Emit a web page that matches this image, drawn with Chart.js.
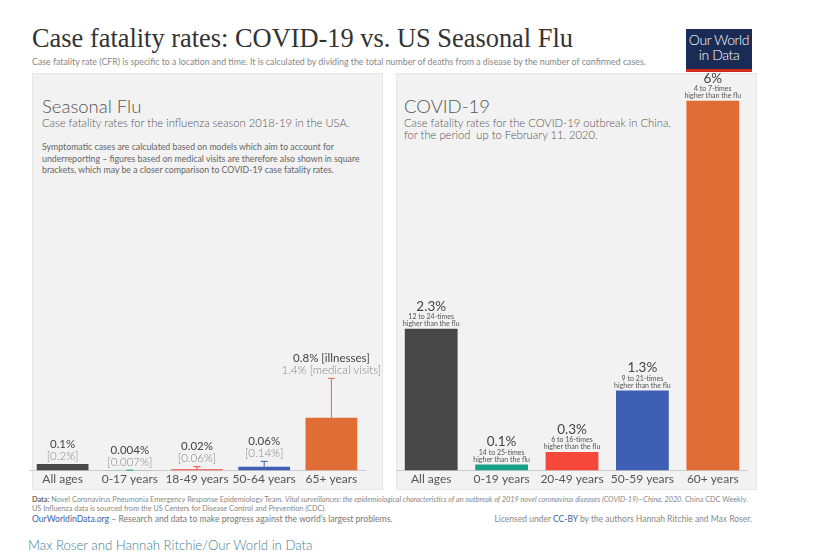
<!DOCTYPE html>
<html>
<head>
<meta charset="utf-8">
<script src="https://cdn.jsdelivr.net/npm/chart.js@4.4.1/dist/chart.umd.min.js"></script>
<style>
  body { margin: 0; width: 813px; height: 554px; background: #fff; font-family: Lato, sans-serif; position: relative; overflow: hidden; }
  .abs { position: absolute; white-space: nowrap; }
  #title { left: 32px; top: 22px; font-family: "Liberation Serif", serif; font-size: 26.4px; line-height: 32px; color: #333; }
  #subtitle { left: 32px; top: 57px; font-size: 8.8px; line-height: 10px; color: #888; }
  #logo { left: 686px; top: 29px; width: 66px; height: 37px; background: #1a2c55; border-bottom: 3px solid #d42b21; color: #fff; text-align: center; font-size: 14px; font-weight: 300; line-height: 15px; padding-top: 3px; box-sizing: content-box; letter-spacing: -0.4px; }
  .panel { position: absolute; top: 73px; height: 417px; background: #f2f2f2; border: 1px solid #e6e6e6; box-sizing: border-box; }
  .head { font-size: 18.5px; font-weight: 300; color: #555; line-height: 18px; }
  .sub { font-size: 11.2px; font-weight: 300; color: #555; line-height: 12px; }
  .note { font-size: 8.75px; color: #666; line-height: 11.5px; }
  canvas { position: absolute; }
  .foot { font-size: 7.3px; color: #888; line-height: 9px; }
  .blue { color: #3b5ea8; }
</style>
</head>
<body>
<div class="abs" id="title">Case fatality rates: COVID-19 vs. US Seasonal Flu</div>
<div class="abs" id="subtitle">Case fatality rate (CFR) is specific to a location and time. It is calculated by dividing the total number of deaths from a disease by the number of confirmed cases.</div>
<div class="abs" id="logo">Our World<br>in Data</div>

<div class="panel" style="left:32px; width:351px;"></div>
<div class="panel" style="left:396px; width:361px;"></div>

<div class="abs head" style="left:42px; top:97px;">Seasonal Flu</div>
<div class="abs sub" style="left:42px; top:117px;">Case fatality rates for the influenza season 2018-19 in the USA.</div>
<div class="abs note" style="left:42px; top:141px;">Symptomatic cases are calculated based on models which aim to account for<br>underreporting – figures based on medical visits are therefore also shown in square<br>brackets, which may be a closer comparison to COVID-19 case fatality rates.</div>

<div class="abs head" style="left:404px; top:97px;">COVID-19</div>
<div class="abs sub" style="left:404px; top:117px;">Case fatality rates for the COVID-19 outbreak in China,<br>for the period&nbsp; up to February 11, 2020.</div>

<canvas id="fluChart" width="360" height="320" style="left:29px; top:170px;"></canvas>
<canvas id="covidChart" width="352" height="424" style="left:396px; top:66px;"></canvas>

<div class="abs foot" style="left:32px; top:495px;"><b style="color:#666">Data:</b> Novel Coronavirus Pneumonia Emergency Response Epidemiology Team. <i>Vital surveillances: the epidemiological characteristics of an outbreak of 2019 novel coronavirus diseases (COVID-19)—China, 2020.</i> China CDC Weekly.<br>US Influenza data is sourced from the US Centers for Disease Control and Prevention (CDC).</div>
<div class="abs" style="left:32px; top:514px; font-size:8.6px; color:#777;"><span class="blue">OurWorldinData.org</span> – Research and data to make progress against the world’s largest problems.</div>
<div class="abs" style="right:61px; top:514px; font-size:8.5px; color:#888;">Licensed under <span class="blue">CC-BY</span> by the authors Hannah Ritchie and Max Roser.</div>
<div class="abs" style="left:28px; top:537px; font-size:13.2px; font-weight:300; color:#3f7f93;">Max Roser and Hannah Ritchie/Our World in Data</div>

<script>
// seasonal flu 2018-19 (USA)
const fluCategories = ['All ages', '0-17 years', '18-49 years', '50-64 years', '65+ years'];
const fluIllnesses = [0.1, 0.004, 0.02, 0.06, 0.8];
const fluMedicalVisits = [0.2, 0.007, 0.06, 0.14, 1.4];
const fluLabels = ['0.1%', '0.004%', '0.02%', '0.06%', '0.8% [illnesses]'];
const fluBracketLabels = ['[0.2%]', '[0.007%]', '[0.06%]', '[0.14%]', '1.4% [medical visits]'];

// covid-19 China, up to Feb 11 2020
const covidCategories = ['All ages', '0-19 years', '20-49 years', '50-59 years', '60+ years'];
const covidValues = [2.3, 0.1, 0.3, 1.3, 6];
const covidLabels = ['2.3%', '0.1%', '0.3%', '1.3%', '6%'];
const covidTimes = ['12 to 24-times', '14 to 25-times', '6 to 16-times', '9 to 21-times', '4 to 7-times'];

const COLORS = ['#474747', '#17a085', '#f5483a', '#3e5fb3', '#e06c36'];

Chart.defaults.font.family = 'Lato';
Chart.defaults.animation = false;

function xAxis() {
    return {
        grid: { display: false, drawTicks: false },
        border: { display: true, color: '#cccccc' },
        ticks: { color: '#555', font: { size: 12 }, padding: 1.5, maxRotation: 0, autoSkip: false }
    };
}

// labels + medical visit whiskers for the flu panel
const fluLabelPlugin = {
    id: 'fluLabels',
    afterDatasetsDraw(chart) {
        const ctx = chart.ctx;
        const y = chart.scales.y;
        const bars = chart.getDatasetMeta(0).data;
        ctx.save();
        bars.forEach(function (bar, i) {
            let top = bar.y;
            if (i > 0) {
                const ey = y.getPixelForValue(fluMedicalVisits[i]);
                ctx.strokeStyle = COLORS[i];
                ctx.lineWidth = 1;
                ctx.beginPath();
                ctx.moveTo(bar.x, bar.y);
                ctx.lineTo(bar.x, ey);
                ctx.moveTo(bar.x - 3.5, ey);
                ctx.lineTo(bar.x + 3.5, ey);
                ctx.stroke();
                top = Math.min(top, ey);
            }
            ctx.textAlign = 'center';
            ctx.textBaseline = 'middle';
            ctx.font = '11.5px Lato';
            ctx.fillStyle = '#444';
            ctx.fillText(fluLabels[i], bar.x, top - 20);
            ctx.font = '300 11.5px Lato';
            ctx.fillStyle = '#888';
            ctx.fillText(fluBracketLabels[i], bar.x, top - 8);
        });
        ctx.restore();
    }
};

const covidLabelPlugin = {
    id: 'covidLabels',
    afterDatasetsDraw(chart) {
        const ctx = chart.ctx;
        const bars = chart.getDatasetMeta(0).data;
        ctx.save();
        ctx.textAlign = 'center';
        ctx.textBaseline = 'middle';
        bars.forEach(function (bar, i) {
            ctx.fillStyle = '#444';
            ctx.font = '13.5px Lato';
            ctx.fillText(covidLabels[i], bar.x, bar.y - 22.5);
            ctx.fillStyle = '#555';
            ctx.font = '7px Lato';
            ctx.fillText(covidTimes[i], bar.x, bar.y - 12);
            ctx.fillText('higher than the flu', bar.x, bar.y - 5);
        });
        ctx.restore();
    }
};

new Chart(document.getElementById('fluChart'), {
    type: 'bar',
    data: {
        labels: fluCategories,
        datasets: [{
            data: fluIllnesses,
            backgroundColor: COLORS,
            barPercentage: 0.77,
            categoryPercentage: 1
        }]
    },
    options: {
        responsive: false,
        layout: { padding: { top: 4, bottom: 2, left: 0, right: 24 } },
        plugins: { legend: { display: false }, tooltip: { enabled: false } },
        scales: {
            x: xAxis(),
            y: { display: false, min: 0, max: 4.5 }
        }
    },
    plugins: [fluLabelPlugin]
});

new Chart(document.getElementById('covidChart'), {
    type: 'bar',
    data: {
        labels: covidCategories,
        datasets: [{
            data: covidValues,
            backgroundColor: COLORS,
            barPercentage: 0.75,
            categoryPercentage: 1
        }]
    },
    options: {
        responsive: false,
        layout: { padding: { top: 4, bottom: 2, left: 0, right: 0 } },
        plugins: { legend: { display: false }, tooltip: { enabled: false } },
        scales: {
            x: xAxis(),
            y: { display: false, min: 0, max: 6.5 }
        }
    },
    plugins: [covidLabelPlugin]
});
</script>
</body>
</html>
